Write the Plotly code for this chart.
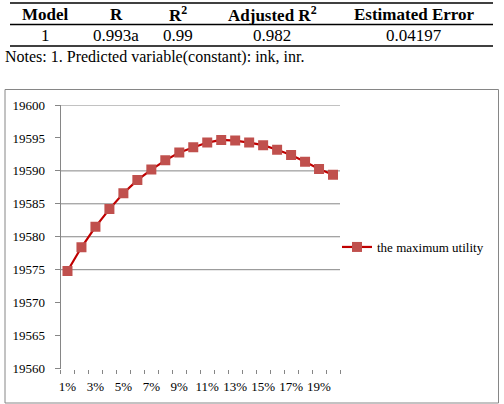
import plotly.graph_objects as go

# ---- data ----
categories = [f"{i}%" for i in range(1, 21)]
max_utility = [19574.8, 19578.4, 19581.5, 19584.2, 19586.6, 19588.6, 19590.2, 19591.6,
               19592.8, 19593.6, 19594.3, 19594.7, 19594.6, 19594.3, 19593.9, 19593.2,
               19592.4, 19591.4, 19590.3, 19589.4]
tick_text = [c if (i % 2 == 0) else " " for i, c in enumerate(categories)]
y_ticks = [19560, 19565, 19570, 19575, 19580, 19585, 19590, 19595, 19600]
grid_values = [19575, 19580, 19585, 19590, 19600]

table_header = ["Model", "R", "R<sup>2</sup>", "Adjusted R<sup>2</sup>", "Estimated Error"]
table_row = ["1", "0.993a", "0.99", "0.982", "0.04197"]
note_text = "Notes: 1. Predicted variable(constant): ink, inr."

W, H = 504, 404
def px(x):
    return x / W
def py(y):
    return 1 - y / H

SERIF = "Liberation Serif"
GRID = "#868686"

fig = go.Figure()
fig.add_trace(go.Scatter(
    x=categories, y=max_utility, mode="lines+markers", name="the maximum utility",
    line=dict(color="#C00000", width=2.2),
    marker=dict(symbol="square", size=10, color="#C0504D", line=dict(width=0)),
))

shapes = []
# chart outer border
shapes.append(dict(type="rect", xref="paper", yref="paper",
                   x0=px(5), x1=px(498.5), y0=py(403), y1=py(89.5),
                   line=dict(color=GRID, width=1), layer="below"))
# gridlines
for g in grid_values:
    shapes.append(dict(type="line", xref="paper", yref="y", x0=px(60.5), x1=px(340),
                       y0=g, y1=g, line=dict(color=GRID, width=1), layer="below"))
# table rules
for yy in (3, 24.5, 46):
    shapes.append(dict(type="line", xref="paper", yref="paper", x0=px(10), x1=px(493),
                       y0=py(yy), y1=py(yy), line=dict(color="black", width=1.3)))

annotations = []
header_x = [45, 116, 178, 272, 414]
for txt, cx in zip(table_header, header_x):
    annotations.append(dict(text=f"<b>{txt}</b>", x=px(cx), y=py(14), xref="paper", yref="paper",
                            showarrow=False, xanchor="center", yanchor="middle",
                            font=dict(family=SERIF, size=17, color="black")))
for txt, cx in zip(table_row, header_x):
    annotations.append(dict(text=txt, x=px(cx), y=py(36), xref="paper", yref="paper",
                            showarrow=False, xanchor="center", yanchor="middle",
                            font=dict(family=SERIF, size=17, color="black")))
annotations.append(dict(text=note_text, x=px(3), y=py(57), xref="paper", yref="paper",
                        showarrow=False, xanchor="left", yanchor="middle",
                        font=dict(family=SERIF, size=16, color="black")))

fig.update_layout(
    width=W, height=H,
    margin=dict(l=0, r=0, t=0, b=0, pad=0, autoexpand=False),
    paper_bgcolor="white", plot_bgcolor="white",
    font=dict(family=SERIF, color="black"),
    showlegend=True,
    legend=dict(x=px(337), y=py(247), xanchor="left", yanchor="middle",
                font=dict(family=SERIF, size=13, color="black"),
                bgcolor="rgba(0,0,0,0)", itemwidth=30, tracegroupgap=0),
    xaxis=dict(domain=[px(60.5), px(340)], type="category", tickmode="array",
               range=[-0.5, len(categories) - 0.5],
               tickvals=categories, ticktext=tick_text, tickson="boundaries",
               tickangle=0, ticks="outside", ticklen=4, tickcolor=GRID, showgrid=False,
               showline=False, zeroline=False, ticklabelstandoff=8,
               tickfont=dict(family=SERIF, size=13, color="black")),
    yaxis=dict(domain=[py(368.5), py(105)], range=[19560, 19600], tickmode="array",
               tickvals=y_ticks, ticktext=[str(v) for v in y_ticks],
               ticks="outside", ticklen=5, tickcolor=GRID, showgrid=False,
               showline=True, linecolor=GRID, linewidth=1, zeroline=False,
               ticklabelstandoff=7,
               tickfont=dict(family=SERIF, size=13, color="black")),
    shapes=shapes, annotations=annotations,
)

fig.write_html("out.html")
